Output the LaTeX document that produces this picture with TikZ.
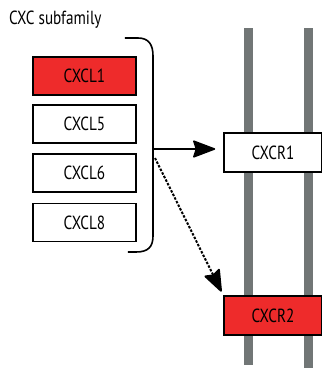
\documentclass[tikz,border=0pt]{standalone}
\usepackage{fontspec}
\setmainfont[FakeStretch=0.8]{PT Sans}
\usetikzlibrary{arrows.meta}
\definecolor{cxred}{HTML}{EE2B2B}
\definecolor{bargray}{HTML}{717676}
\tikzset{
  lbox/.style={draw=black, line width=1.6pt, minimum width=103pt, minimum height=38pt, inner sep=0pt, font=\fontsize{19}{22}\selectfont},
  rbox/.style={draw=black, line width=1.6pt, minimum width=98pt, minimum height=39pt, inner sep=0pt, font=\fontsize{19}{22}\selectfont},
  bar/.style={fill=bargray, draw=none},
  conn/.style={line width=1.6pt, -{Stealth[length=24pt,width=18pt,inset=3pt,round]}},
}
\begin{document}
\begin{tikzpicture}[x=1pt,y=-1pt]
\useasboundingbox (0,0) rectangle (322,368);
\clip (0,0) rectangle (322,368);
% receptor bars
\fill[bar] (244,28) rectangle (253,365);
\fill[bar] (304,28) rectangle (313,368);
% title
\node[font=\fontsize{19}{22}\selectfont, anchor=west, inner sep=0pt] (title) at (9,20) {CXC subfamily};
% ligand boxes
\node[lbox, fill=cxred] (l1) at (84.5,76) {CXCL1};
\node[lbox, fill=white] (l5) at (84.5,124) {CXCL5};
\node[lbox, fill=white] (l6) at (84.5,173) {CXCL6};
\node[lbox, fill=white] (l8) at (84.5,222.5) {CXCL8};
% receptor boxes
\node[rbox, fill=white] (r1) at (273,152.5) {CXCR1};
\node[rbox, fill=cxred] (r2) at (273,315.5) {CXCR2};
% bracket
\draw[line width=1.6pt] (125,38) -- (138,38) .. controls (149,38) and (153,45) .. (153,56) -- (153,236) .. controls (153,247) and (148,252) .. (136,252) -- (128,252);
\coordinate (b1) at (153,149);
\coordinate (b2) at (155,158);
% connectors
\draw[conn, shorten >=8pt] (b1) -- (r1.west |- b1);
\draw[conn, line width=2pt, dash pattern=on 2.5pt off 1.5pt, shorten >=4pt] (b2) -- (r2.north west);
\end{tikzpicture}
\end{document}
